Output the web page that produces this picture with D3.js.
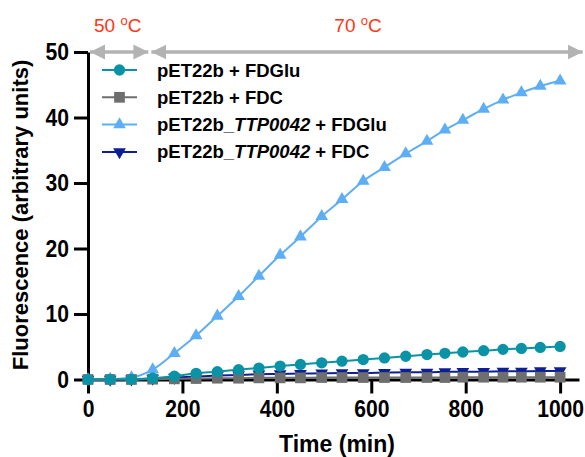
<!DOCTYPE html>
<html>
<head>
<meta charset="utf-8">
<script src="https://cdn.jsdelivr.net/npm/d3@7"></script>
<style>
  body { margin: 0; background: #fff; }
  text { font-family: "Liberation Sans", Arial, Helvetica, sans-serif; }
  .cond { transform-box: fill-box; transform-origin: center; transform: scaleX(0.88); }
  .cond-r { transform-box: fill-box; transform-origin: right center; transform: scaleX(0.88); }
</style>
</head>
<body>
<div id="chart"></div>
<script>
// chart size
var svgWidth = 585;
var svgHeight = 457;

// data
var times = [0, 47, 92, 137, 183, 229, 274, 319, 362, 407, 450, 495, 538, 583, 628, 673, 718, 756, 794, 838, 879, 918, 958, 1000];
var fdgluCtrl = [0, 0.03, 0.03, 0.2, 0.5, 0.95, 1.2, 1.5, 1.75, 2.05, 2.3, 2.55, 2.8, 3.05, 3.3, 3.55, 3.8, 4.0, 4.2, 4.4, 4.6, 4.75, 4.9, 5.05];
var fdcCtrl = [0, 0, 0, 0.05, 0.1, 0.15, 0.2, 0.2, 0.25, 0.25, 0.25, 0.3, 0.3, 0.3, 0.3, 0.3, 0.3, 0.3, 0.35, 0.35, 0.35, 0.35, 0.35, 0.35];
var fdgluTtp = [0, 0.05, 0.3, 1.5, 4.0, 6.7, 9.7, 12.7, 15.8, 19.0, 21.8, 24.9, 27.5, 30.3, 32.4, 34.5, 36.4, 38.1, 39.6, 41.3, 42.7, 43.8, 44.8, 45.6];
var fdcTtp = [0, 0, 0.05, 0.15, 0.3, 0.45, 0.6, 0.7, 0.8, 0.85, 0.9, 0.95, 1.0, 1.0, 1.05, 1.1, 1.1, 1.15, 1.2, 1.2, 1.25, 1.25, 1.3, 1.3];

var xTicks = [0, 200, 400, 600, 800, 1000];
var yTicks = [0, 10, 20, 30, 40, 50];

// temperature phases (min)
var phaseLabels = ["50 ", "70 "];
var phaseStart = [0, 130];
var phaseEnd = [130, 1050];
var phaseLabelAt = [63, 572];

var series = [
  { name: "fdgluCtrl", values: fdgluCtrl, color: "#0a93a6", symbol: d3.symbolCircle, size: 100, rot: 0,
    label: ["pET22b + FDGlu"] },
  { name: "fdcCtrl", values: fdcCtrl, color: "#6e6e6e", symbol: d3.symbolSquare, size: 115, rot: 0,
    label: ["pET22b + FDC"] },
  { name: "fdgluTtp", values: fdgluTtp, color: "#5eaef5", symbol: d3.symbolTriangle, size: 70, rot: 0,
    label: ["pET22b_", "TTP0042", " + FDGlu"] },
  { name: "fdcTtp", values: fdcTtp, color: "#0c1f94", symbol: d3.symbolTriangle, size: 70, rot: 180,
    label: ["pET22b_", "TTP0042", " + FDC"] }
];

var svg = d3.select("#chart")
  .append("svg")
  .attr("width", svgWidth)
  .attr("height", svgHeight);

var xScale = d3.scaleLinear().domain([0, 1040]).range([88, 579]);
var yScale = d3.scaleLinear().domain([0, 50]).range([379.5, 52]);

// x axis
var xAxis = svg.append("g")
  .attr("transform", `translate(0, ${yScale(0)})`)
  .call(d3.axisBottom(xScale).tickValues(xTicks).tickFormat(d3.format("d"))
    .tickSize(14).tickSizeOuter(0).tickPadding(6));

// y axis
var yAxis = svg.append("g")
  .attr("transform", `translate(${xScale(0)}, 0)`)
  .call(d3.axisLeft(yScale).tickValues(yTicks).tickSize(14).tickSizeOuter(0).tickPadding(5));

[xAxis, yAxis].forEach(function(ax) {
  ax.select(".domain").attr("stroke", "#000").attr("stroke-width", 3);
  ax.selectAll(".tick line").attr("stroke", "#000").attr("stroke-width", 3);
  ax.selectAll(".tick text")
    .attr("fill", "#000")
    .attr("font-size", "24px")
    .attr("font-weight", "bold")
    .style("font-family", "'Liberation Sans', Arial, sans-serif");
});
xAxis.selectAll(".tick text").classed("cond", true);
yAxis.selectAll(".tick text").classed("cond-r", true);

// axis titles
svg.append("text")
  .attr("x", 337)
  .attr("y", 452)
  .attr("text-anchor", "middle")
  .attr("font-size", "23px")
  .attr("font-weight", "bold")
  .text("Time (min)");

svg.append("text")
  .attr("transform", "translate(28, 215) rotate(-90)")
  .attr("text-anchor", "middle")
  .attr("font-size", "22px")
  .attr("font-weight", "bold")
  .text("Fluorescence (arbitrary units)");

// temperature arrows
var defs = svg.append("defs");
["start", "end"].forEach(function(k) {
  defs.append("marker")
    .attr("id", "arrow-" + k)
    .attr("viewBox", "0 0 10 10")
    .attr("refX", k === "end" ? 10 : 0)
    .attr("refY", 5)
    .attr("markerWidth", 15)
    .attr("markerHeight", 16)
    .attr("markerUnits", "userSpaceOnUse")
    .attr("orient", "auto")
    .append("path")
    .attr("d", k === "end" ? "M0,0 L10,5 L0,10 Z" : "M10,0 L0,5 L10,10 Z")
    .attr("fill", "#b3b3b3");
});

phaseLabels.forEach(function(lab, i) {
  svg.append("line")
    .attr("x1", xScale(phaseStart[i]) + 2)
    .attr("x2", xScale(phaseEnd[i]) - 1)
    .attr("y1", yScale(50))
    .attr("y2", yScale(50))
    .attr("stroke", "#b3b3b3")
    .attr("stroke-width", 3.5)
    .attr("marker-start", "url(#arrow-start)")
    .attr("marker-end", "url(#arrow-end)");

  var t = svg.append("text")
    .attr("x", xScale(phaseLabelAt[i]))
    .attr("y", 32)
    .attr("text-anchor", "middle")
    .attr("font-size", "19px")
    .attr("fill", "#ff3514");
  t.append("tspan").text(lab);
  t.append("tspan").attr("dy", -7).attr("font-size", "13px").text("o");
  t.append("tspan").attr("dy", 7).text("C");
});

// lines and points, last series drawn first
var line = d3.line()
  .x(function(d, i) { return xScale(times[i]); })
  .y(function(d) { return yScale(d); })
  .curve(d3.curveMonotoneX);

series.slice().reverse().forEach(function(s) {
  svg.append("path")
    .datum(s.values)
    .attr("fill", "none")
    .attr("stroke", s.color)
    .attr("stroke-width", 2)
    .attr("d", line);

  svg.append("g")
    .selectAll("path")
    .data(s.values)
    .enter()
    .append("path")
    .attr("d", d3.symbol().type(s.symbol).size(s.size))
    .attr("transform", function(d, i) {
      return `translate(${xScale(times[i])}, ${yScale(d)}) rotate(${s.rot})`;
    })
    .attr("fill", s.color);
});

// legend
var legend = svg.append("g").attr("transform", "translate(102, 70)");
series.forEach(function(s, i) {
  var row = legend.append("g").attr("transform", `translate(0, ${i * 27.3})`);
  row.append("line")
    .attr("x1", 0).attr("x2", 35)
    .attr("stroke", s.color)
    .attr("stroke-width", 2);
  row.append("path")
    .attr("d", d3.symbol().type(s.symbol).size(s.size))
    .attr("transform", `translate(17.5, 0) rotate(${s.rot})`)
    .attr("fill", s.color);
  var txt = row.append("text")
    .attr("x", 55)
    .attr("y", 6.5)
    .attr("font-size", "18.5px")
    .attr("font-weight", "bold")
    .attr("fill", "#000");
  s.label.forEach(function(part, j) {
    txt.append("tspan")
      .attr("font-style", j === 1 ? "italic" : "normal")
      .text(part);
  });
});
</script>
</body>
</html>
